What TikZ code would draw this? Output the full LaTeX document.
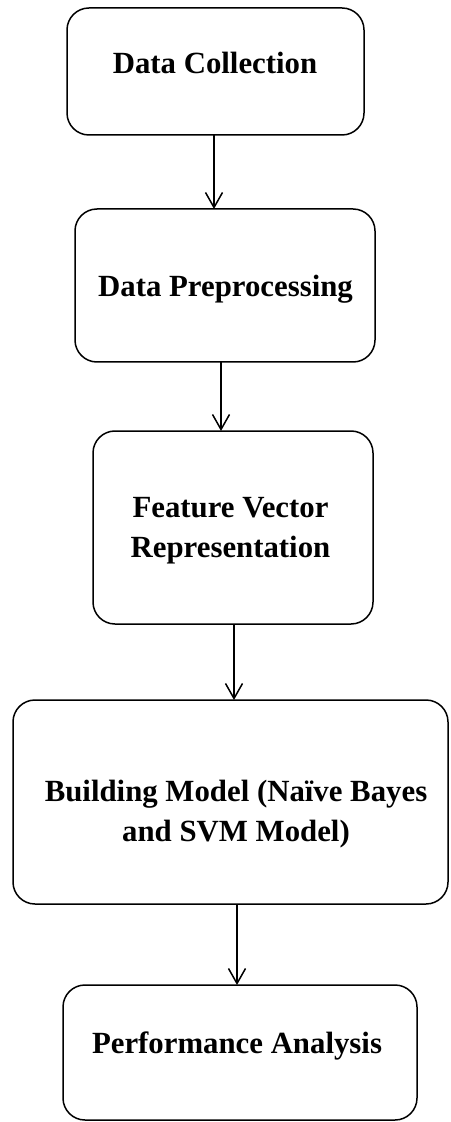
\documentclass[tikz,border=0pt]{standalone}
\usepackage{fontspec}
\setmainfont{Liberation Serif}
\usetikzlibrary{arrows.meta}
\begin{document}
\begin{tikzpicture}[x=0.5pt,y=-0.5pt,
  stagebox/.style={draw=black, line width=0.75pt, rounded corners=11pt,
    inner sep=0pt, outer sep=0pt, fill=none},
  stagetext/.style={anchor=base, align=center, inner sep=0pt,
    font=\fontsize{15.4}{20}\selectfont\bfseries},
  flow/.style={draw=black, line width=0.75pt,
    -{Straight Barb[length=7.5pt,width=8.5pt,line width=0.75pt]}}]
  \useasboundingbox (0,0) rectangle (450,1122);

  % stage boxes
  \node[stagebox, minimum width=148.5pt, minimum height=63.5pt] (b1) at (215.5,71.5) {};
  \node[stagebox, minimum width=150pt, minimum height=76.5pt] (b2) at (225,285.5) {};
  \node[stagebox, minimum width=140pt, minimum height=96.5pt] (b3) at (233,527.5) {};
  \node[stagebox, minimum width=217.5pt, minimum height=102pt] (b4) at (230.5,802) {};
  \node[stagebox, minimum width=177pt, minimum height=67.5pt] (b5) at (240,1052.5) {};

  % stage labels (two-line labels are placed by the baseline of their last line)
  \node[stagetext] (t1) at (215,74) {Data Collection};
  \node[stagetext] (t2) at (225.5,297) {Data Preprocessing};
  \node[stagetext] (t3) at (230.5,557) {Feature Vector\\Representation};
  \node[stagetext] (t4) at (236,841) {Building Model (Naïve Bayes\\and SVM Model)};
  \node[stagetext] (t5) at (237,1053) {Performance Analysis};

  % connector columns
  \coordinate (c1) at (214,0);
  \coordinate (c2) at (221,0);
  \coordinate (c3) at (234,0);
  \coordinate (c4) at (237,0);

  \draw[flow] (b1.south -| c1) -- (b2.north -| c1);
  \draw[flow] (b2.south -| c2) -- (b3.north -| c2);
  \draw[flow] (b3.south -| c3) -- (b4.north -| c3);
  \draw[flow] (b4.south -| c4) -- (b5.north -| c4);
\end{tikzpicture}
\end{document}
